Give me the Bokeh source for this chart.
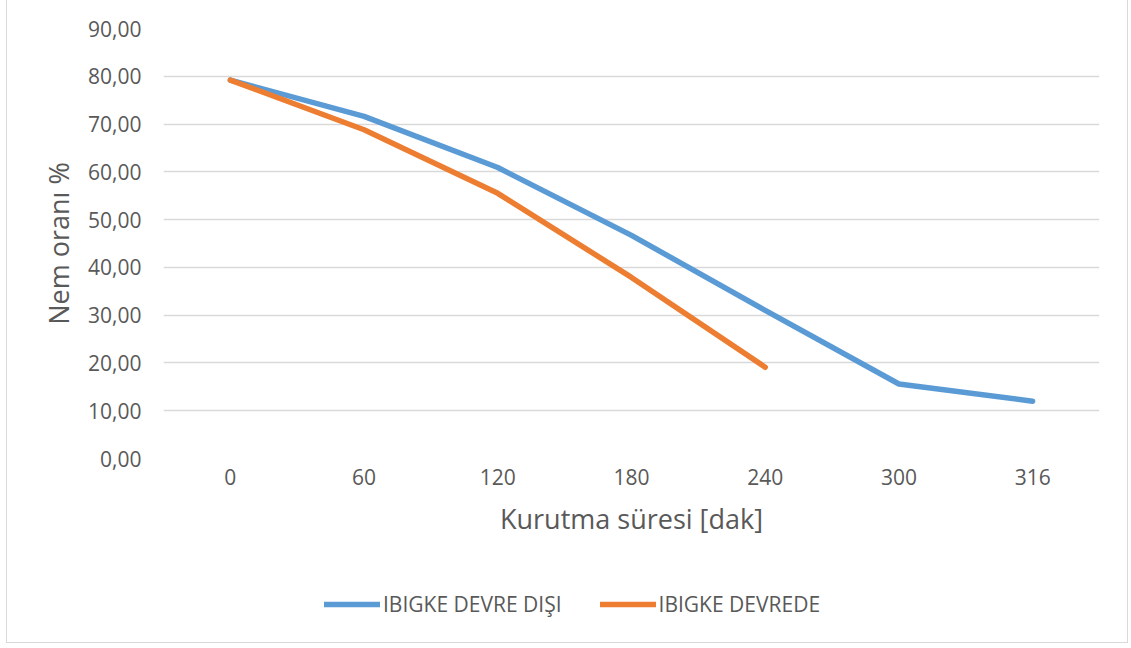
from bokeh.plotting import figure
from bokeh.layouts import column
from bokeh.models import (FactorRange, Range1d, Legend, LegendItem,
                          CustomJSTickFormatter, FixedTicker)
from bokeh.embed import file_html
from bokeh.resources import INLINE

categories = ["0", "60", "120", "180", "240", "300", "316"]
devre_disi = [79.2, 71.6, 60.9, 46.7, 31.0, 15.6, 12.0]
devrede = [79.2, 68.8, 55.5, 37.9, 19.1]
y_ticks = [0, 10, 20, 30, 40, 50, 60, 70, 80, 90]
series_names = ["IBIGKE DEVRE DIŞI", "IBIGKE DEVREDE"]
series_colors = ["#5B9BD5", "#ED7D31"]
x_title = "Kurutma süresi [dak]"
y_title = "Nem oranı %"

FONT = "Open Sans"
TXT = "#595959"

p = figure(x_range=FactorRange(*categories), y_range=Range1d(0, 90),
           width=1120, height=560, output_backend="svg", toolbar_location=None,
           min_border_left=156, min_border_right=28, min_border_top=28,
           min_border_bottom=102)
p.outline_line_color = None
p.background_fill_color = "white"
p.border_fill_color = "white"

r1 = p.line(categories, devre_disi, line_color=series_colors[0], line_width=5.5,
            line_cap="round", line_join="round")
r2 = p.line(categories[:len(devrede)], devrede, line_color=series_colors[1], line_width=5.5,
            line_cap="round", line_join="round")

p.xgrid.visible = False
p.ygrid.ticker = FixedTicker(ticks=y_ticks)
p.ygrid.grid_line_color = "#D9D9D9"
p.ygrid.grid_line_width = 1.5

for ax in (p.xaxis[0], p.yaxis[0]):
    ax.axis_line_color = None
    ax.major_tick_line_color = None
    ax.minor_tick_line_color = None
    ax.major_tick_in = 0
    ax.major_tick_out = 0
    ax.major_label_text_font = FONT
    ax.major_label_text_color = TXT
    ax.major_label_text_font_size = "21px"
    ax.axis_label_text_font = FONT
    ax.axis_label_text_color = TXT
    ax.axis_label_text_font_size = "27px"
    ax.axis_label_text_font_style = "normal"

p.yaxis.ticker = FixedTicker(ticks=y_ticks)
p.yaxis.formatter = CustomJSTickFormatter(code="return tick.toFixed(2).replace('.', ',');")
p.yaxis.major_label_standoff = 22
p.yaxis.axis_label = y_title
p.yaxis.axis_label_standoff = 8

p.xaxis.major_label_standoff = 10
p.xaxis.axis_label = x_title
p.xaxis.axis_label_standoff = 12

# legend strip (its frame is aligned with the main frame by the column layout)
pl = figure(width=1120, height=82, output_backend="svg", toolbar_location=None,
            x_axis_type=None, y_axis_type=None, min_border=0,
            x_range=Range1d(0, 1), y_range=Range1d(0, 1))
pl.outline_line_color = None
pl.xgrid.visible = False
pl.ygrid.visible = False
nan = float("nan")
l1 = pl.line(x=[nan, nan], y=[nan, nan], line_color=series_colors[0], line_width=5.5,
             line_cap="round")
l2 = pl.line(x=[nan, nan], y=[nan, nan], line_color=series_colors[1], line_width=5.5,
             line_cap="round")

legend = Legend(items=[LegendItem(label=series_names[0], renderers=[l1]),
                       LegendItem(label=series_names[1], renderers=[l2])],
                location=(161, 24), orientation="horizontal",
                glyph_width=56, glyph_height=20, label_standoff=3, spacing=38,
                padding=0, margin=0, border_line_alpha=0, background_fill_alpha=0,
                label_text_font=FONT, label_text_font_size="21px",
                label_text_color=TXT)
pl.add_layout(legend, "center")

layout = column(p, pl, spacing=0,
                styles={"margin-left": "6px", "border-left": "1px solid #D9D9D9",
                        "border-right": "1px solid #D9D9D9",
                        "border-bottom": "1px solid #D9D9D9"})

open("out.html", "w").write(file_html(layout, INLINE))
